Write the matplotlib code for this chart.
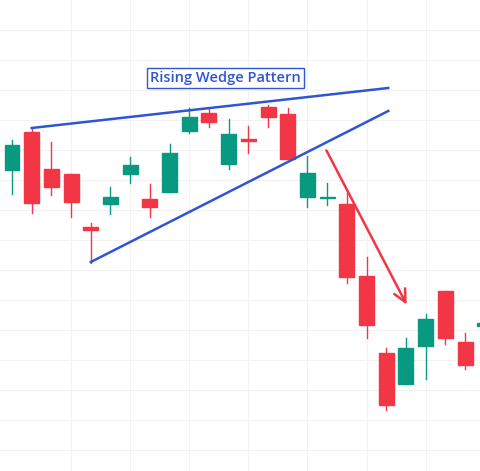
import matplotlib.pyplot as plt
from matplotlib.patches import Rectangle

# prices (higher = up)
opens  = [330, 368, 331, 326, 273, 296, 326, 301, 308, 369, 387, 336, 360.5, 393, 386, 303, 302, 296, 224, 147, 116, 154, 209, 158, 174]
closes = [355, 297, 313, 298, 270, 303, 335, 293, 347, 383, 378, 366, 359.5, 383, 341, 327, 302, 223, 175, 95, 152, 181, 162, 135, 177]
highs  = [360, 371, 358, 326, 277, 313, 343, 316, 356, 392, 392, 381, 374, 395, 392, 344, 317, 307, 243, 152, 162, 186, 209, 167, 180]
lows   = [306, 287, 305, 283, 237, 286, 317, 283, 308, 367, 373, 331, 347, 373, 341, 293, 295, 217, 162, 90, 116, 121, 156, 131, 170]
x_idx = list(range(len(opens)))

label = "Rising Wedge Pattern"
upper_line = ([1, 19.1], [372, 412])
lower_line = ([4, 19.1], [238, 389])
arrow_pts = ([15.9, 20.1], [352, 193])

green, red, blue = "#089981", "#f23645", "#2f55d4"

fig = plt.figure(figsize=(4.8, 4.71), dpi=100)
ax = fig.add_axes([0, 0, 1, 1])
ax.set_xlim(-0.61, 23.76)
ax.set_ylim(29, 500)

for gx in range(3, 25, 3):
    ax.axvline(gx, color="#f2f2f2", lw=0.8, zorder=0)
for gy in range(50, 500, 30):
    ax.axhline(gy, color="#f2f2f2", lw=0.8, zorder=0)

for i, o, c, h, l in zip(x_idx, opens, closes, highs, lows):
    col = green if c >= o else red
    ax.plot([i, i], [l, h], color=col, lw=1, zorder=2)
    ax.add_patch(Rectangle((i - 0.38, min(o, c)), 0.76, max(abs(c - o), 1.5),
                           color=col, zorder=3))

ax.plot(*upper_line, color=blue, lw=1.8, zorder=4)
ax.plot(*lower_line, color=blue, lw=1.8, zorder=4)
ax.annotate("", xy=(arrow_pts[0][1], arrow_pts[1][1]), xytext=(arrow_pts[0][0], arrow_pts[1][0]),
            arrowprops=dict(arrowstyle="->", color=red, lw=1.8, mutation_scale=22), zorder=4)
ax.text(10.85, 422, label, color=blue, fontsize=10.5, ha="center", va="center",
        fontfamily="Open Sans", fontweight="semibold",
        bbox=dict(boxstyle="square,pad=0.2", fc="white", ec=blue, lw=1))

ax.axis("off")
fig.savefig("out.png", dpi=100)
